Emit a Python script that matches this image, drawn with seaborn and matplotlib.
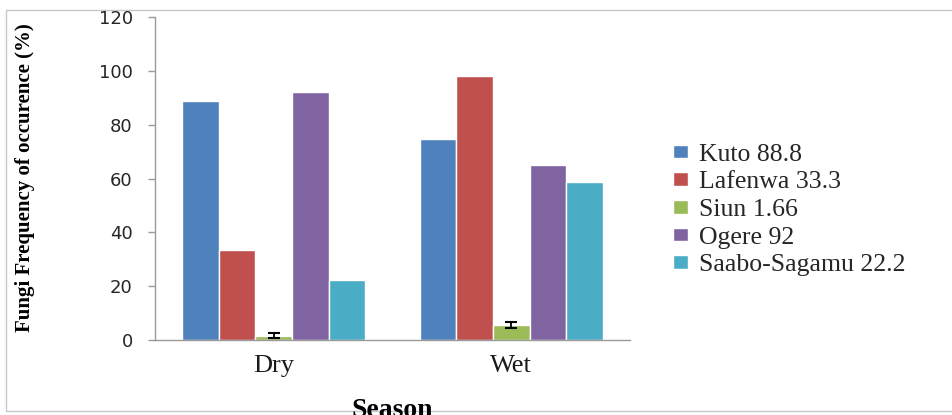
import matplotlib
matplotlib.use("Agg")
import matplotlib.pyplot as plt
import seaborn as sns
import pandas as pd
from matplotlib.patches import Rectangle

seasons = ["Dry", "Wet"]
sites = ["Kuto 88.8", "Lafenwa 33.3", "Siun 1.66", "Ogere 92", "Saabo-Sagamu 22.2"]
dry_values = [88.8, 33.3, 1.66, 92.0, 22.2]
wet_values = [74.5, 98.0, 5.6, 65.0, 58.8]
siun_err = [1.0, 1.0]
colors = ["#4F81BD", "#C0504D", "#9BBB59", "#8064A2", "#4BACC6"]
yticks = [0, 20, 40, 60, 80, 100, 120]

rows = []
for s, vals in zip(seasons, [dry_values, wet_values]):
    for site, v in zip(sites, vals):
        rows.append({"Season": s, "Site": site, "Value": v})
df = pd.DataFrame(rows)

sns.set_theme(style="white")
fig = plt.figure(figsize=(9.52, 4.15), dpi=100)
ax = fig.add_axes([155 / 952, 1 - 340 / 415, 475 / 952, 323 / 415])

sns.barplot(data=df, x="Season", y="Value", hue="Site", hue_order=sites,
            order=seasons, palette=colors, width=0.77, saturation=1,
            errorbar=None, ax=ax, legend=True)

# error bars on Siun bars
for p in ax.patches:
    h = p.get_height()
    if h == dry_values[2] or h == wet_values[2]:
        idx = 0 if h == dry_values[2] else 1
        ax.errorbar(p.get_x() + p.get_width() / 2, h, yerr=siun_err[idx],
                    fmt="none", ecolor="black", elinewidth=1.3, capsize=4, capthick=1.5)

ax.set_ylim(0, 120)
ax.set_yticks(yticks)
ax.set_xlim(-0.5, 1.5)
ax.set_yticklabels([str(t) for t in yticks], fontsize=13, color="#262626", family="DejaVu Sans")
ax.set_xticks([0, 1])
ax.set_xticklabels(seasons, fontsize=19, family="Liberation Serif", color="#1a1a1a")
ax.set_xticks([-0.5, 0.5, 1.5], minor=True)
ax.tick_params(axis="x", which="major", length=0, pad=11)
ax.tick_params(axis="x", which="minor", length=5, color="#9a9a9a", width=1, direction="out")
ax.tick_params(axis="y", length=5, color="#9a9a9a", width=1, direction="out", pad=11, left=True)

for sp in ["top", "right"]:
    ax.spines[sp].set_visible(False)
for sp in ["left", "bottom"]:
    ax.spines[sp].set_color("#9a9a9a")
    ax.spines[sp].set_linewidth(1)

ax.set_ylabel("Fungi Frequency of occurence (%)", fontsize=15, fontweight="bold",
              family="Liberation Serif", color="black")
ax.yaxis.set_label_coords(-0.252, 0.503)
ax.set_xlabel("Season", fontsize=20, fontweight="bold", family="Liberation Serif",
              color="black", va="top")
ax.xaxis.set_label_coords(0.5, -0.18)

handles, labels = ax.get_legend_handles_labels()
ax.get_legend().remove()
fig.legend(handles, labels, loc="center left", bbox_to_anchor=(0.707, 0.494),
           frameon=False, borderpad=0, borderaxespad=0, handlelength=0.6,
           handleheight=0.45, handletextpad=0.4, labelspacing=0.22,
           prop={"family": "Liberation Serif", "size": 18.5})

fig.patches.append(Rectangle((6 / 952, 4 / 415), 1.0, 1 - 14 / 415,
                             transform=fig.transFigure, fill=False,
                             edgecolor="#c8c8c8", linewidth=1, zorder=-1))

fig.savefig("out.png", dpi=100)
